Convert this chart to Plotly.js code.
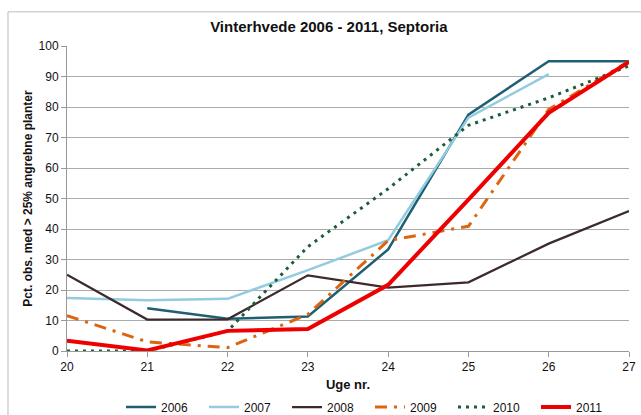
<!DOCTYPE html>
<html>
<head>
<meta charset="utf-8">
<script src="https://cdn.plot.ly/plotly-3.0.1.min.js"></script>
<style>html,body{margin:0;padding:0;background:#fff;}#chart{width:641px;height:415px;}</style>
</head>
<body>
<div id="chart"></div>
<script>
var weeks = [20, 21, 22, 23, 24, 25, 26, 27];
var s2006 = [null, 14, 10.6, 11.3, 33.3, 77.5, 95, 95];
var s2007 = [17.4, 16.6, 17.1, 26.5, 36.3, 76.5, 90.8, null];
var s2008 = [25, 10.3, 10.4, 24.8, 20.8, 22.5, 35.2, 45.9];
var s2009 = [11.6, 3, 1.1, 12, 36.2, 40.9, 79.2, 95];
var s2010 = [0, 0, 6.5, 34.2, 53.2, 74, 83, 93.5];
var s2011 = [3.4, 0.2, 6.6, 7.2, 21.7, 49.6, 78.1, 94.8];
var seriesNames = ['2006', '2007', '2008', '2009', '2010', '2011'];

var styles = [
  {color: '#1F5F73', width: 2.5, dash: 'solid'},
  {color: '#93CBDF', width: 2.5, dash: 'solid'},
  {color: '#3D2A2A', width: 2.25, dash: 'solid'},
  {color: '#DD6511', width: 3, dash: '12px,7px,3px,7px'},
  {color: '#1B5E3B', width: 3, dash: '3px,5px'},
  {color: '#EE0000', width: 4, dash: 'solid'}
];
var data = [s2006, s2007, s2008, s2009, s2010, s2011];
var traces = data.map(function(ys, i) {
  return {
    x: weeks, y: ys, name: seriesNames[i], type: 'scatter', mode: 'lines',
    connectgaps: false,
    line: {color: styles[i].color, width: styles[i].width, dash: styles[i].dash}
  };
});

var font = 'Arial, "Liberation Sans", sans-serif';
var layout = {
  width: 641, height: 415,
  margin: {l: 67, r: 12, t: 46, b: 64, autoexpand: false},
  paper_bgcolor: '#fff', plot_bgcolor: '#fff',
  font: {family: font, size: 12, color: '#111'},
  title: {text: '<b>Vinterhvede 2006 - 2011, Septoria</b>', font: {family: font, size: 15, color: '#111'},
          x: 0.513, xanchor: 'center', y: 0.935, yanchor: 'middle'},
  xaxis: {
    range: [20, 27], tickmode: 'linear', tick0: 20, dtick: 1,
    showgrid: false, zeroline: false, showline: true, linecolor: '#999', linewidth: 1,
    ticks: 'outside', ticklen: 5, tickcolor: '#999',
    tickfont: {family: font, size: 12, color: '#111'},
    title: {text: '<b>Uge nr.</b>', font: {family: font, size: 13, color: '#111'}, standoff: 19}
  },
  yaxis: {
    range: [0, 100], tickmode: 'linear', tick0: 0, dtick: 10,
    showgrid: true, gridcolor: '#ABABAB', gridwidth: 1, zeroline: false,
    showline: true, linecolor: '#999', linewidth: 1,
    ticks: 'outside', ticklen: 5, tickcolor: '#999',
    tickfont: {family: font, size: 12, color: '#111'},
    title: {text: '<b>Pct. obs. med > 25% angrebne planter</b>', font: {family: font, size: 12, color: '#111'}, standoff: 3}
  },
  showlegend: true,
  legend: {orientation: 'h', xref: 'container', yref: 'container', x: 121 / 641, xanchor: 'left',
           y: 8 / 415, yanchor: 'middle', entrywidth: 38, entrywidthmode: 'pixels',
           font: {family: font, size: 12, color: '#111'}, itemwidth: 30, bgcolor: 'rgba(0,0,0,0)'},
  shapes: [{type: 'rect', xref: 'paper', yref: 'paper', x0: -0.105, x1: 1.05, y0: -0.3, y1: 1.112,
            line: {color: '#BBBBBB', width: 1}, fillcolor: 'rgba(0,0,0,0)', layer: 'below'}]
};

Plotly.newPlot('chart', traces, layout, {displayModeBar: false, staticPlot: true});
</script>
</body>
</html>
